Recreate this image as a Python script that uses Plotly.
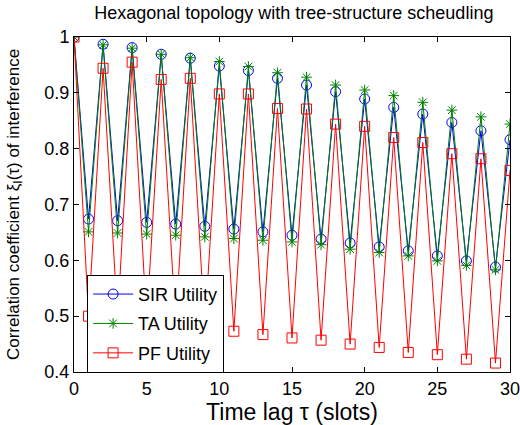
import plotly.graph_objects as go

tau = list(range(0, 31))

sir = [1.0, 0.674, 0.987, 0.671, 0.981, 0.668, 0.969, 0.665, 0.962, 0.661,
       0.948, 0.656, 0.940, 0.651, 0.926, 0.645, 0.914, 0.638, 0.902, 0.631,
       0.889, 0.624, 0.874, 0.617, 0.862, 0.608, 0.847, 0.599, 0.832, 0.588,
       0.816]

ta = [1.0, 0.651, 0.986, 0.649, 0.980, 0.647, 0.969, 0.645, 0.963, 0.642,
      0.956, 0.639, 0.947, 0.636, 0.936, 0.633, 0.928, 0.628, 0.914, 0.620,
      0.905, 0.614, 0.895, 0.608, 0.883, 0.599, 0.869, 0.591, 0.857, 0.583,
      0.844]

pf = [1.0, 0.500, 0.944, 0.495, 0.955, 0.490, 0.924, 0.485, 0.926, 0.479,
      0.898, 0.473, 0.898, 0.467, 0.872, 0.461, 0.871, 0.457, 0.844, 0.450,
      0.840, 0.444, 0.820, 0.435, 0.811, 0.431, 0.791, 0.423, 0.782, 0.416,
      0.761]

x_ticks = [0, 5, 10, 15, 20, 25, 30]
y_ticks = [0.4, 0.5, 0.6, 0.7, 0.8, 0.9, 1.0]
y_ticklabels = ["0.4", "0.5", "0.6", "0.7", "0.8", "0.9", "1"]

names = ["SIR Utility", "TA Utility", "PF Utility"]
colors = ["#0000ff", "#008000", "#ff0000"]
symbols = ["circle-open", "asterisk-open", "square-open"]
sizes = [10, 9, 10]

fig = go.Figure()
for y, n, c, s, sz in zip([sir, ta, pf], names, colors, symbols, sizes):
    fig.add_trace(go.Scatter(
        x=tau, y=y, name=n, mode="lines+markers", legendgroup=n,
        line=dict(color=c, width=1),
        marker=dict(symbol=s, size=sz, color=c, line=dict(color=c, width=1)),
    ))

axis_common = dict(
    showline=True, linecolor="black", linewidth=1, mirror="ticks",
    ticks="inside", ticklen=5, tickcolor="black", showgrid=False,
    zeroline=False, automargin=False, ticklabeloverflow="allow",
    tickfont=dict(family="Liberation Sans, Arial", size=18, color="black"),
)

fig.update_layout(
    width=520, height=425,
    margin=dict(l=74, r=10, t=37, b=53),
    paper_bgcolor="white", plot_bgcolor="white",
    font=dict(family="Liberation Sans, Arial", color="black"),
    title=dict(text="Hexagonal topology with tree-structure scheudling",
               x=0.565, xanchor="center", y=0.969, yanchor="middle",
               font=dict(size=18, color="black")),
    xaxis=dict(range=[0, 30], tickvals=x_ticks,
               title=dict(text="Time lag τ (slots)", font=dict(size=23), standoff=4),
               **axis_common),
    yaxis=dict(range=[0.4, 1.0], tickvals=y_ticks, ticktext=y_ticklabels,
               title=dict(text="Correlation coefficient ξ<sub>I</sub>(τ) of interference",
                          font=dict(size=17), standoff=20),
               **axis_common),
    legend=dict(x=0.03, y=0.29, xanchor="left", yanchor="top",
                bgcolor="white", bordercolor="black", borderwidth=1,
                font=dict(size=18, color="black"), itemwidth=40,
                tracegroupgap=3),
    showlegend=True,
)

fig.write_html("out.html", config={"displayModeBar": False},
               post_script="document.body.style.margin='0px';")
